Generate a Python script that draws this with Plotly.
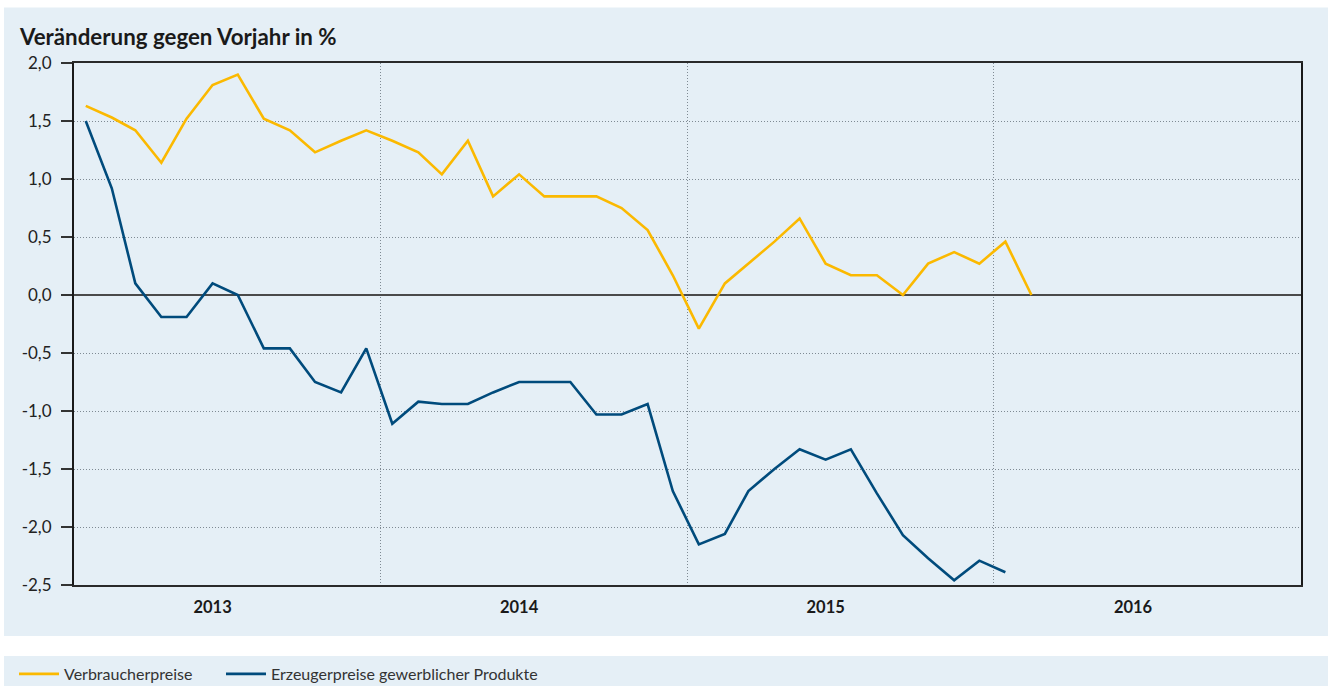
import pandas as pd
import plotly.graph_objects as go

# ---- data ----
months_vpi = pd.date_range("2013-01-01", periods=38, freq="MS") + pd.Timedelta(days=14)
months_epi = months_vpi[:37]

verbraucherpreise = [
    1.63, 1.53, 1.42, 1.14, 1.52, 1.81, 1.90, 1.52, 1.42, 1.23, 1.33, 1.42,
    1.33, 1.23, 1.04, 1.33, 0.85, 1.04, 0.85, 0.85, 0.85, 0.75, 0.56, 0.17,
    -0.29, 0.10, 0.27, 0.46, 0.66, 0.27, 0.17, 0.17, 0.00, 0.27, 0.37, 0.27,
    0.46, 0.00,
]
erzeugerpreise = [
    1.50, 0.92, 0.10, -0.19, -0.19, 0.10, 0.00, -0.46, -0.46, -0.75, -0.84, -0.46,
    -1.11, -0.92, -0.94, -0.94, -0.84, -0.75, -0.75, -0.75, -1.03, -1.03, -0.94, -1.69,
    -2.15, -2.06, -1.69, -1.50, -1.33, -1.42, -1.33, -1.71, -2.07, -2.27, -2.46, -2.29,
    -2.39,
]

year_labels = ["2013", "2014", "2015", "2016"]
year_label_pos = ["2013-06-15", "2014-06-15", "2015-06-15", "2016-06-15"]
y_ticks = [2.0, 1.5, 1.0, 0.5, 0.0, -0.5, -1.0, -1.5, -2.0, -2.5]
y_ticktext = ["2,0", "1,5", "1,0", "0,5", "0,0", "-0,5", "-1,0", "-1,5", "-2,0", "-2,5"]

YELLOW = "#fbb900"
BLUE = "#004b7c"
PANEL = "#e5eff6"
FONT = "Lato"
GRID = "#7f8a93"

fig = go.Figure()
fig.add_trace(go.Scatter(x=months_vpi, y=verbraucherpreise, mode="lines",
                         name="Verbraucherpreise", legend="legend",
                         line=dict(color=YELLOW, width=2.6)))
fig.add_trace(go.Scatter(x=months_epi, y=erzeugerpreise, mode="lines",
                         name="Erzeugerpreise gewerblicher Produkte", legend="legend2",
                         line=dict(color=BLUE, width=2.6)))

L, R, T, B = 74, 34, 63, 101
W, H = 1335, 686
pw, ph = W - L - R, H - T - B

def px_x(x):
    return (x - L) / pw

def px_y(y):
    return (H - B - y) / ph

leg_common = dict(orientation="h", xanchor="left", xref="container",
                  yref="container", y=1 - 674 / H, yanchor="middle",
                  bgcolor="rgba(0,0,0,0)", itemwidth=40,
                  font=dict(family=FONT, size=16, color="#333333"))

fig.update_layout(
    width=W, height=H,
    margin=dict(l=L, r=R, t=T, b=B, autoexpand=False),
    paper_bgcolor="white",
    plot_bgcolor=PANEL,
    font=dict(family=FONT, color="#222222"),
    title=dict(text="<b>Veränderung gegen Vorjahr in %</b>",
               font=dict(family=FONT, size=22.3, color="#1a1a1a"),
               x=20 / W, xanchor="left", xref="container",
               y=1 - 37 / H, yanchor="middle", yref="container"),
    showlegend=True,
    legend=dict(x=14 / W, **leg_common),
    legend2=dict(x=221 / W, **leg_common),
    shapes=[
        dict(type="rect", xref="paper", yref="paper", layer="below",
             x0=px_x(4), x1=px_x(1328), y0=px_y(636), y1=px_y(7.5),
             fillcolor=PANEL, line=dict(width=0)),
        dict(type="rect", xref="paper", yref="paper", layer="below",
             x0=px_x(4), x1=px_x(1328), y0=px_y(692), y1=px_y(656),
             fillcolor=PANEL, line=dict(width=0)),
    ],
)

fig.update_xaxes(
    type="date",
    range=["2013-01-01", "2017-01-01"],
    tickmode="array", tickvals=year_label_pos, ticktext=year_labels,
    ticks="", showgrid=False, ticklabelstandoff=6,
    tickfont=dict(family=FONT, size=16.5, color="#1a1a1a", weight="bold"),
    showline=True, linecolor="#2a2a2a", linewidth=2, mirror=True,
    minor=dict(tick0="2013-01-01", dtick="M12", showgrid=True,
               gridcolor=GRID, griddash="1px,2px", gridwidth=1, ticks=""),
    zeroline=False,
)
fig.update_yaxes(
    range=[-2.5, 2.0],
    tickmode="array", tickvals=y_ticks, ticktext=y_ticktext,
    ticks="outside", ticklen=11, tickwidth=2, tickcolor="#333333",
    ticklabelstandoff=6,
    tickfont=dict(family=FONT, size=17, color="#222222"),
    showgrid=True, gridcolor=GRID, griddash="1px,2px", gridwidth=1,
    showline=True, linecolor="#1a1a1a", linewidth=2, mirror=True,
    zeroline=True, zerolinecolor="#4a4a4a", zerolinewidth=1.5,
)

fig.write_html("out.html")
